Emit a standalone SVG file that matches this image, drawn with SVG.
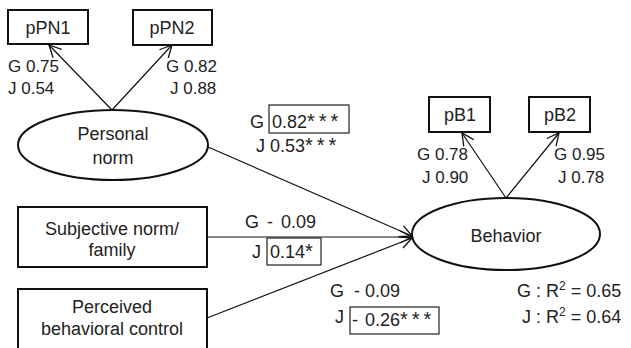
<svg xmlns="http://www.w3.org/2000/svg" width="631" height="348" viewBox="0 0 631 348">
<defs>
<style>
text{font-family:"Liberation Sans",Arial,sans-serif;font-size:18px;fill:#222}
.lbl{font-size:17px}
.ast{font-size:20px;letter-spacing:4px}
.node{fill:#fff;stroke:#111;stroke-width:2}
.box{fill:none;stroke:#222;stroke-width:1.2}
.edge{fill:none;stroke:#111;stroke-width:1.2;marker-end:url(#arr)}
.mid{text-anchor:middle}
</style>
<marker id="arr" viewBox="0 0 14 14" refX="13" refY="7" markerWidth="14" markerHeight="14" markerUnits="userSpaceOnUse" orient="auto">
<polyline points="1,1 13,7 1,13" fill="none" stroke="#111" stroke-width="1.3"/>
</marker>
</defs>
<g id="connectors">
<line class="edge" x1="112" y1="110" x2="49" y2="45"/>
<line class="edge" x1="112" y1="110" x2="172" y2="45"/>
<line class="edge" x1="506" y1="198" x2="462" y2="133"/>
<line class="edge" x1="506" y1="198" x2="559" y2="133"/>
<line class="edge" x1="208" y1="147" x2="412" y2="236"/>
<line class="edge" x1="207" y1="237" x2="412" y2="237"/>
<line class="edge" x1="207" y1="318" x2="412" y2="238"/>
</g>
<g id="pPN1"><rect class="node" x="8" y="10" width="80" height="34"/><text class="mid" x="48" y="34">pPN1</text></g>
<g id="pPN2"><rect class="node" x="133" y="10" width="79" height="35"/><text class="mid" x="172" y="34">pPN2</text></g>
<g id="pB1"><rect class="node" x="429" y="97" width="61" height="35"/><text class="mid" x="460" y="121">pB1</text></g>
<g id="pB2"><rect class="node" x="529" y="97" width="61" height="35"/><text class="mid" x="560" y="121">pB2</text></g>
<g id="personal-norm"><ellipse class="node" cx="113" cy="145" rx="95" ry="35"/><text class="mid" x="113" y="140">Personal</text><text class="mid" x="113" y="164">norm</text></g>
<g id="subjective-norm"><rect class="node" x="18" y="207" width="189" height="60"/><text class="mid" x="112" y="235">Subjective norm/</text><text class="mid" x="112" y="256">family</text></g>
<g id="perceived-control"><rect class="node" x="18" y="289" width="189" height="62"/><text class="mid" x="112" y="313">Perceived</text><text class="mid" x="112" y="335">behavioral control</text></g>
<g id="behavior"><ellipse class="node" cx="506" cy="234" rx="94" ry="36"/><text class="mid" x="506" y="242">Behavior</text></g>
<g id="labels">
<text class="lbl" x="8" y="72">G 0.75</text>
<text class="lbl" x="8" y="94">J 0.54</text>
<text class="lbl" x="166" y="72">G 0.82</text>
<text class="lbl" x="170" y="94">J 0.88</text>
<text class="lbl" x="417" y="160">G 0.78</text>
<text class="lbl" x="422" y="183">J 0.90</text>
<text class="lbl" x="554" y="160">G 0.95</text>
<text class="lbl" x="558" y="183">J 0.78</text>
<text x="250" y="128">G</text>
<rect class="box" x="269" y="105" width="80" height="28"/>
<text x="272" y="128">0.82<tspan class="ast">***</tspan></text>
<text x="256" y="152">J 0.53<tspan class="ast">***</tspan></text>
<text x="245" y="228" word-spacing="3">G - 0.09</text>
<text x="252" y="258">J</text>
<rect class="box" x="267" y="238" width="54" height="27"/>
<text x="270" y="258">0.14<tspan class="ast">*</tspan></text>
<text x="330" y="297" xml:space="preserve">G  - 0.09</text>
<text x="335" y="323">J</text>
<rect class="box" x="350" y="307" width="89" height="27"/>
<text x="352" y="326" word-spacing="2">- 0.26<tspan class="ast">***</tspan></text>
<text x="517" y="297">G : R<tspan dy="-7" font-size="12">2</tspan><tspan dy="7"> = 0.65</tspan></text>
<text x="522" y="323">J : R<tspan dy="-7" font-size="12">2</tspan><tspan dy="7"> = 0.64</tspan></text>
</g>
</svg>
